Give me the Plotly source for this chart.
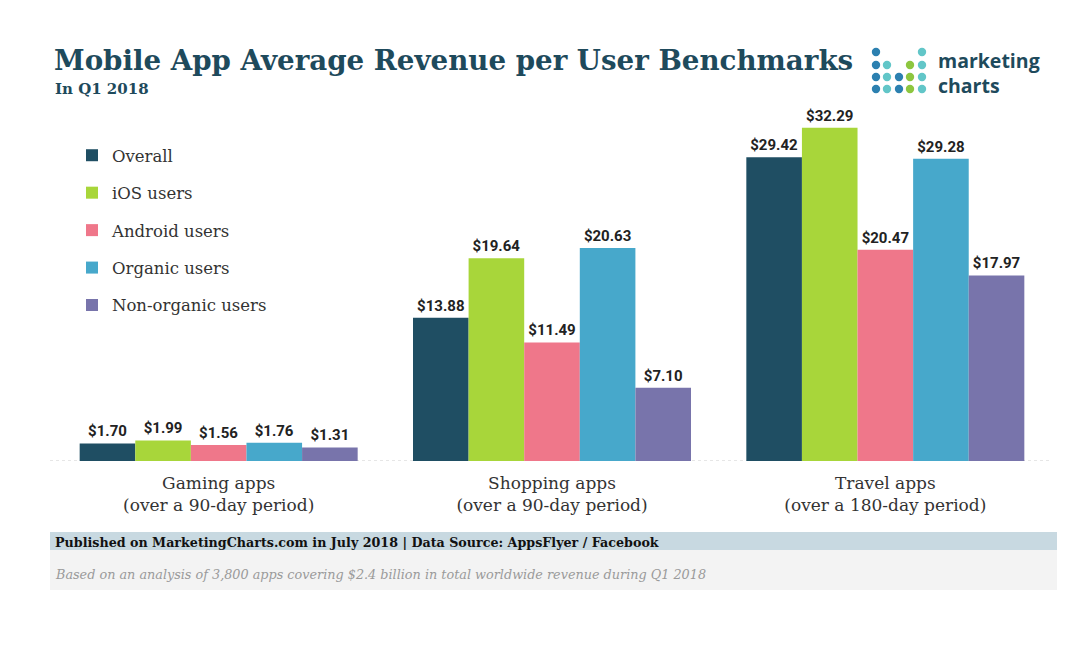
import plotly.graph_objects as go

categories = ["Gaming apps<br>(over a 90-day period)",
              "Shopping apps<br>(over a 90-day period)",
              "Travel apps<br>(over a 180-day period)"]
series_names = ["Overall", "iOS users", "Android users", "Organic users", "Non-organic users"]
overall = [1.70, 13.88, 29.42]
ios = [1.99, 19.64, 32.29]
android = [1.56, 11.49, 20.47]
organic = [1.76, 20.63, 29.28]
nonorganic = [1.31, 7.10, 17.97]
series_values = [overall, ios, android, organic, nonorganic]
colors = ["#1f4e63", "#a8d63a", "#ef778a", "#47a8cb", "#7874ab"]

SLAB = "DejaVu Serif"
fig = go.Figure()
for i, (name, vals, col) in enumerate(zip(series_names, series_values, colors)):
    fig.add_trace(go.Bar(
        x=categories, y=vals, name=name, legendgroup=f"g{i}",
        marker=dict(color=col, line=dict(width=0)),
        text=[f"<b>${v:.2f}</b>" for v in vals], textposition="outside",
        textfont=dict(family="Roboto", size=15, color="#222"),
        cliponaxis=False,
    ))

# page body has an 8px margin; figure sized to fit the window
OFF = 8
W, H = 1080 - OFF, 658 - OFF
H_TOP, H_BOT = 110, 461          # plot area top/bottom in picture pixels
P_LEFT, P_RIGHT = 52, 1052       # plot area left/right in picture pixels

def py(p):
    return (H_BOT - p) / (H_BOT - H_TOP)

def px(p):
    return (p - P_LEFT) / (P_RIGHT - P_LEFT)

shapes = [
    dict(type="line", xref="paper", yref="y", x0=px(50), x1=px(1052), y0=0, y1=0,
         line=dict(color="#cccccc", width=1, dash="dot"), layer="below"),
    dict(type="rect", xref="paper", yref="paper", x0=px(50), x1=px(1057), y0=py(532), y1=py(550),
         fillcolor="#c8d9e1", line=dict(width=0)),
    dict(type="rect", xref="paper", yref="paper", x0=px(50), x1=px(1057), y0=py(550), y1=py(590),
         fillcolor="#f3f3f3", line=dict(width=0)),
]
# logo dots
blue, teal, green = "#2c80b0", "#62c6c8", "#8dc63f"
dot_cols = [876, 887, 899, 910, 922]
dot_rows = [52, 65, 77, 89]
pattern = [
    [blue, None, None, None, teal],
    [blue, teal, None, green, teal],
    [blue, teal, blue, green, teal],
    [blue, teal, blue, green, teal],
]
r = 4.2
for ri, row in enumerate(pattern):
    for ci, c in enumerate(row):
        if c is None:
            continue
        cx, cy = dot_cols[ci], dot_rows[ri]
        shapes.append(dict(type="circle", xref="paper", yref="paper",
                           x0=px(cx - r), x1=px(cx + r), y0=py(cy + r), y1=py(cy - r),
                           fillcolor=c, line=dict(width=0)))

annotations = [
    dict(text="<b>Mobile App Average Revenue per User Benchmarks</b>", xref="paper", yref="paper",
         x=px(52), y=py(61), xanchor="left", yanchor="middle", showarrow=False,
         font=dict(family=SLAB, size=27.7, color="#1e4a5c")),
    dict(text="<b>In Q1 2018</b>", xref="paper", yref="paper",
         x=px(53), y=py(89), xanchor="left", yanchor="middle", showarrow=False,
         font=dict(family=SLAB, size=15, color="#1e4a5c")),
    dict(text="<b>marketing<br>charts</b>", xref="paper", yref="paper",
         x=px(936), y=py(73), xanchor="left", yanchor="middle", align="left", showarrow=False,
         font=dict(family="Open Sans", size=19.5, color="#1e4a5c")),
    dict(text="<b>Published on MarketingCharts.com in July 2018 | Data Source: AppsFlyer / Facebook</b>",
         xref="paper", yref="paper", x=px(53), y=py(542), xanchor="left", yanchor="middle",
         showarrow=False, font=dict(family=SLAB, size=12.7, color="#111")),
    dict(text="<i>Based on an analysis of 3,800 apps covering $2.4 billion in total worldwide revenue during Q1 2018</i>",
         xref="paper", yref="paper", x=px(53), y=py(574), xanchor="left", yanchor="middle",
         showarrow=False, font=dict(family=SLAB, size=12.8, color="#9a9a9a")),
]

fig.update_layout(
    width=W, height=H,
    margin=dict(l=P_LEFT - OFF, r=W - (P_RIGHT - OFF), t=H_TOP - OFF, b=H - (H_BOT - OFF)),
    paper_bgcolor="white", plot_bgcolor="white",
    barmode="group", bargap=0.166, bargroupgap=0,
    showlegend=True,
    legend=dict(x=px(72), y=py(138), xanchor="left", yanchor="top",
                traceorder="grouped", tracegroupgap=13,
                font=dict(family=SLAB, size=16.5, color="#333"),
                itemwidth=30, bgcolor="rgba(0,0,0,0)"),
    xaxis=dict(showgrid=False, showline=False, ticks="", zeroline=False,
               ticklabelstandoff=10,
               tickfont=dict(family=SLAB, size=17, color="#333")),
    yaxis=dict(range=[0, 34], visible=False),
    shapes=shapes, annotations=annotations,
)
fig.write_html("out.html")
